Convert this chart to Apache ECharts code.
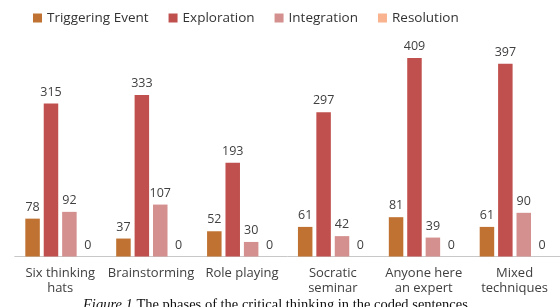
<!DOCTYPE html>
<html>
<head>
<meta charset="utf-8">
<script src="https://cdn.jsdelivr.net/npm/echarts@6/dist/echarts.min.js"></script>
<style>html,body{margin:0;padding:0;background:#fff}#c{width:560px;height:307px}</style>
</head>
<body>
<div id="c"></div>
<script>
var categories = ['Six thinking\nhats', 'Brainstorming', 'Role playing', 'Socratic\nseminar', 'Anyone here\nan expert', 'Mixed\ntechniques'];
var seriesNames = ['Triggering Event', 'Exploration', 'Integration', 'Resolution'];
var triggering = [78, 37, 52, 61, 81, 61];
var exploration = [315, 333, 193, 297, 409, 397];
var integration = [92, 107, 30, 42, 39, 90];
var resolution = [0, 0, 0, 0, 0, 0];
var colors = ['#BF7231', '#C0504D', '#D4908F', '#F9B38F'];

var chart = echarts.init(document.getElementById('c'), null, {renderer: 'canvas'});
var font = '"Open Sans", sans-serif';
function mk(name, data, color) {
  return {
    name: name, type: 'bar', data: data,
    barWidth: 14.5, barGap: '27%',
    itemStyle: {color: color},
    label: {show: true, position: 'top', distance: 5, color: '#404040', fontSize: 12.5, fontFamily: font}
  };
}
chart.setOption({
  animation: false,
  color: colors,
  legend: {
    data: seriesNames, left: 28, top: 6, itemWidth: 9, itemHeight: 9, itemGap: 20,
    icon: 'rect',
    textStyle: {fontSize: 13.5, color: '#333', fontFamily: font}
  },
  grid: {left: 14.75, right: -8.55, top: 38.1, bottom: 50.5},
  xAxis: {
    type: 'category', data: categories,
    axisLine: {show: true, lineStyle: {color: '#C8C8C8', width: 1}},
    axisTick: {show: false},
    axisLabel: {show: true, interval: 0, margin: 9,
      formatter: function (v) { return v.split('\n').map(function (s) { return '{a|' + s + '}'; }).join('\n'); },
      rich: {a: {align: 'center', fontSize: 13, lineHeight: 15, color: '#404040', fontFamily: font}}}
  },
  yAxis: {type: 'value', min: 0, max: 450, show: false, splitLine: {show: false}},
  series: [
    mk(seriesNames[0], triggering, colors[0]),
    mk(seriesNames[1], exploration, colors[1]),
    mk(seriesNames[2], integration, colors[2]),
    mk(seriesNames[3], resolution, colors[3])
  ],
  graphic: [{
    type: 'text', left: 83, top: 298,
    style: {
      text: '{i|Figure 1} The phases of the critical thinking in the coded sentences',
      font: '14.5px "Liberation Serif", serif', fill: '#111',
      rich: {i: {fontStyle: 'italic', fontFamily: '"Liberation Serif", serif', fontSize: 14.5, fill: '#111'}}
    }
  }]
});
</script>
</body>
</html>
